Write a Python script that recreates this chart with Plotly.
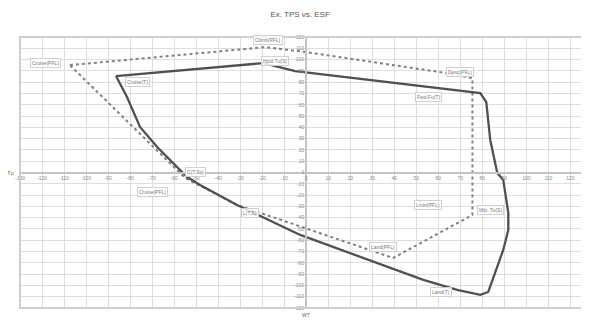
import plotly.graph_objects as go

# ---- data ----
x_ticks = list(range(-130, 130, 10))
y_ticks = list(range(-120, 130, 10))

solid_x = [-86.4, -19.5, -5.0, 79.1, 81.8, 83.6, 86.8, 89.5, 91.8, 91.8, 89.5, 86.8, 84.5, 82.7,
           79.1, 68.6, 53.2, 38.2, 20.0, -2.7, -31.4, -48.2, -54.1, -58.6, -67.7, -75.5, -81.4, -86.4]
solid_y = [85.4, 96.9, 89.8, 70.4, 62.4, 28.8, -0.4, -6.6, -35.8, -50.9, -68.6, -83.6, -95.1, -105.8,
           -108.4, -104.0, -95.1, -84.5, -71.2, -55.3, -28.8, -11.1, -4.0, 4.9, 22.6, 40.3, 66.8, 85.4]

dash_x = [-107.3, -18.6, 0.0, 60.9, 75.5, 75.5, 39.5, -31.4, -55.0, -107.3]
dash_y = [95.1, 111.0, 106.6, 88.9, 83.6, -37.6, -75.7, -28.8, -4.9, 95.1]

label_text = ["Cruise(PFL)", "Climb(PFL)", "Hold Tu(S)", "Cruise(T)", "Desc(PFL)", "Fwd.Fu(T)",
              "Cruise(PFL)", "C(T,Ss)", "L(T,S)", "Land(PFL)", "Lmin(PFL)", "Mlp. Tu(S)", "Land(T)"]
label_x = [-118.6, -17.3, -14.1, -76.8, 70.0, 55.5, -70.0, -50.5, -25.5, 35.0, 55.5, 83.6, 61.0]
label_y = [96.9, 117.3, 98.7, 80.1, 88.9, 66.8, -17.3, 0.4, -35.8, -66.0, -28.8, -33.2, -105.8]

title_text = "Ex. TPS vs. ESF"
x_title = "WT"
y_title = "Tu"

X_RANGE = [-130, 128]
Y_RANGE = [-120, 120]

fig = go.Figure()
fig.add_trace(go.Scatter(x=dash_x, y=dash_y, mode="lines",
                         line=dict(color="#808080", width=2, dash="dot"), showlegend=False))
fig.add_trace(go.Scatter(x=solid_x, y=solid_y, mode="lines",
                         line=dict(color="#505050", width=2.3), showlegend=False))

for t, lx, ly in zip(label_text, label_x, label_y):
    fig.add_annotation(x=lx, y=ly, text=t, showarrow=False,
                       font=dict(size=5, color="#777", family="Liberation Sans"),
                       bgcolor="rgba(255,255,255,0.85)", bordercolor="#d0d0d0", borderwidth=1, borderpad=1)

xpos = (0 - X_RANGE[0]) / (X_RANGE[1] - X_RANGE[0])
ypos = (0 - Y_RANGE[0]) / (Y_RANGE[1] - Y_RANGE[0])

fig.update_layout(
    width=589, height=320,
    margin=dict(l=12, r=9, t=29, b=20, autoexpand=False),
    paper_bgcolor="white", plot_bgcolor="white",
    title=dict(text=title_text, x=0.496, xanchor="center", y=0.981, yanchor="middle",
               font=dict(size=8, color="#555", family="Liberation Sans"), automargin=False),
    xaxis=dict(range=X_RANGE, tickvals=x_ticks, ticktext=[str(v) for v in x_ticks],
               showgrid=True, gridcolor="#dedede", gridwidth=1, zeroline=False, automargin=False,
               anchor="free", position=ypos, showline=True, linecolor="#c4c4c4", linewidth=2,
               ticks="", tickfont=dict(size=5, color="#888", family="Liberation Sans")),
    yaxis=dict(range=Y_RANGE, tickvals=y_ticks, ticktext=[str(v) for v in y_ticks],
               showgrid=True, gridcolor="#dedede", gridwidth=1, zeroline=False, automargin=False,
               anchor="free", position=xpos, showline=True, linecolor="#c4c4c4", linewidth=2,
               ticks="", tickfont=dict(size=5, color="#888", family="Liberation Sans")),
    shapes=[dict(type="rect", xref="paper", yref="paper", x0=0, y0=0, x1=1, y1=1,
                 line=dict(color="#cfcfcf", width=2))],
)
fig.add_annotation(xref="paper", yref="paper", x=-0.027, y=ypos, text=y_title, showarrow=False,
                   font=dict(size=6, color="#666", family="Liberation Sans"))
fig.add_annotation(xref="paper", yref="paper", x=xpos, y=-0.026, yanchor="middle", text=x_title,
                   showarrow=False, font=dict(size=5, color="#666", family="Liberation Sans"))

fig.write_html("out.html")
